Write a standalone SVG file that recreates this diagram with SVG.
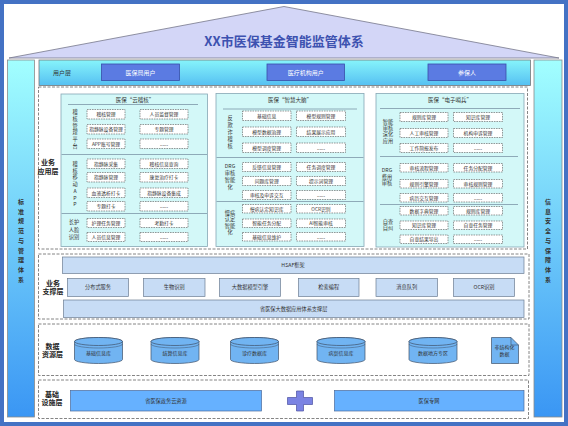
<svg xmlns="http://www.w3.org/2000/svg" width="568" height="426" viewBox="0 0 568 426">
<defs>
<linearGradient id="gSide" x1="0" y1="0" x2="0" y2="1"><stop offset="0" stop-color="#A2FFFF"/><stop offset="1" stop-color="#3A96F4"/></linearGradient>
<linearGradient id="gUser" x1="0" y1="0" x2="0" y2="1"><stop offset="0" stop-color="#86F4FB"/><stop offset="1" stop-color="#56C0F2"/></linearGradient>
<style>
text{font-family:"Noto Sans CJK SC","Noto Sans",sans-serif;fill:#333;text-anchor:middle}
.it rect{fill:#fff;stroke:#555;stroke-width:.6;stroke-dasharray:1.6 .9}
.it text{font-size:4.8px}
.lay{fill:none;stroke:#666;stroke-width:.8;stroke-dasharray:3 1.5}
.pan{fill:#D3F8F8;stroke:#86A6B4;stroke-width:.8}
.sep{stroke:#8EAAB8;stroke-width:1.2}
.pt{font-size:5.5px}
.vl{font-size:5.2px}
.ll{font-size:7px;font-weight:bold;fill:#222}
.sv rect{fill:#C7DCF5;stroke:#6C7D92;stroke-width:.7}
.sv text{font-size:5.2px}
.cy{fill:#71B4F2;stroke:#3F5068;stroke-width:.7}
.ub rect{fill:#5B7BE2;stroke:#3A4EA8;stroke-width:.8}
.ub text{fill:#fff;font-size:6px}
.inf rect{fill:#66B1FF;stroke:#4A6A9A;stroke-width:.7}
.inf text{font-size:5.2px}
.sd text{font-size:6px;font-weight:bold;fill:#333}
</style>
</defs>
<rect x="2" y="2" width="564" height="422" fill="#fff" stroke="#4472C4" stroke-width="4"/>

<g id="roof">
<polygon points="9,58 284,6.5 559,58" fill="#D3D6F7" stroke="#76778A" stroke-width="0.8"/>
<text x="284" y="45.5" style="font-size:13px;font-weight:bold;fill:#3D52B0">XX市医保基金智能监管体系</text>
</g>

<g id="side-left" class="sd">
<rect x="7.5" y="60" width="27" height="357" fill="url(#gSide)" stroke="#8A8A8A" stroke-width="0.8"/>
<text x="21" y="204">标<tspan x="21" dy="9.7">准</tspan><tspan x="21" dy="9.7">规</tspan><tspan x="21" dy="9.7">范</tspan><tspan x="21" dy="9.7">与</tspan><tspan x="21" dy="9.7">管</tspan><tspan x="21" dy="9.7">理</tspan><tspan x="21" dy="9.7">体</tspan><tspan x="21" dy="9.7">系</tspan></text>
</g>
<g id="side-right" class="sd">
<rect x="534" y="60" width="28" height="357" fill="url(#gSide)" stroke="#8A8A8A" stroke-width="0.8"/>
<text x="548" y="204">信<tspan x="548" dy="9.7">息</tspan><tspan x="548" dy="9.7">安</tspan><tspan x="548" dy="9.7">全</tspan><tspan x="548" dy="9.7">与</tspan><tspan x="548" dy="9.7">保</tspan><tspan x="548" dy="9.7">障</tspan><tspan x="548" dy="9.7">体</tspan><tspan x="548" dy="9.7">系</tspan></text>
</g>

<g id="user-layer">
<rect x="39" y="60" width="491.5" height="25.5" fill="url(#gUser)" stroke="#777" stroke-width="0.8"/>
<text x="62" y="74.5" style="font-size:6px">用户层</text>
<g class="ub"><rect x="101.5" y="64" width="78" height="16.5"/><text x="140.5" y="74.5">医保局用户</text></g>
<g class="ub"><rect x="267" y="64" width="77.5" height="16.5"/><text x="305.7" y="74.5">医疗机构用户</text></g>
<g class="ub"><rect x="428" y="64" width="78" height="16.5"/><text x="467" y="74.5">参保人</text></g>
</g>

<g id="app-layer">
<rect class="lay" x="38.5" y="87" width="489" height="162"/>
<text class="ll" x="48" y="165">业务</text><text class="ll" x="48" y="174">应用层</text>
</g>

<g id="cloud-audit">
<rect class="pan" x="61" y="94" width="146.5" height="152.5"/>
<text class="pt" x="135" y="102">医保“云稽核”</text>
<line class="sep" x1="68" y1="104.5" x2="198" y2="104.5"/>
<line class="sep" x1="61.5" y1="154.5" x2="207" y2="154.5"/>
<line class="sep" x1="61.5" y1="213.5" x2="207" y2="213.5"/>
<text class="vl" x="75" y="114">稽<tspan x="75" dy="6.8">核</tspan><tspan x="75" dy="6.8">管</tspan><tspan x="75" dy="6.8">理</tspan><tspan x="75" dy="6.8">平</tspan><tspan x="75" dy="6.8">台</tspan></text>
<text class="vl" x="75" y="166">稽<tspan x="75" dy="6.7">核</tspan><tspan x="75" dy="6.7">移</tspan><tspan x="75" dy="6.7">动</tspan><tspan x="75" dy="6.7">A</tspan><tspan x="75" dy="6.7">P</tspan><tspan x="75" dy="6.7">P</tspan></text>
<text class="vl" x="74" y="224">长护<tspan x="74" dy="7.6">人脸</tspan><tspan x="74" dy="7.6">识别</tspan></text>
<g class="it"><rect x="87" y="109.5" width="38" height="9.5"/><text x="106" y="116">稽核管理</text></g>
<g class="it"><rect x="140" y="109.5" width="48" height="9.5"/><text x="164" y="116">人员监督管理</text></g>
<g class="it"><rect x="87" y="124.5" width="38" height="9.5"/><text x="106" y="131">指静脉设备管理</text></g>
<g class="it"><rect x="140" y="124.5" width="48" height="9.5"/><text x="164" y="131">专题管理</text></g>
<g class="it"><rect x="87" y="139" width="38" height="9.5"/><text x="106" y="145.5">APP账号管理</text></g>
<g class="it"><rect x="140" y="139" width="48" height="9.5"/><text x="164" y="145.5">......</text></g>
<g class="it"><rect x="87" y="159" width="38" height="9.5"/><text x="106" y="165.5">指静脉采集</text></g>
<g class="it"><rect x="140" y="159" width="48" height="9.5"/><text x="164" y="165.5">稽核信息查询</text></g>
<g class="it"><rect x="87" y="172.5" width="38" height="9.5"/><text x="106" y="179">指静脉管理</text></g>
<g class="it"><rect x="140" y="172.5" width="48" height="9.5"/><text x="164" y="179">康复治疗打卡</text></g>
<g class="it"><rect x="87" y="188" width="38" height="9.5"/><text x="106" y="194.5">血液透析打卡</text></g>
<g class="it"><rect x="140" y="188" width="48" height="9.5"/><text x="164" y="194.5">指静脉设备集成</text></g>
<g class="it"><rect x="87" y="201.5" width="38" height="9.5"/><text x="106" y="208">专题打卡</text></g>
<g class="it"><rect x="140" y="201.5" width="48" height="9.5"/><text x="164" y="208">......</text></g>
<g class="it"><rect x="87" y="218.5" width="38" height="9"/><text x="106" y="224.8">护理任务管理</text></g>
<g class="it"><rect x="140" y="218.5" width="48" height="9"/><text x="164" y="224.8">考勤打卡</text></g>
<g class="it"><rect x="87" y="232.5" width="38" height="9"/><text x="106" y="238.8">人员信息管理</text></g>
<g class="it"><rect x="140" y="232.5" width="48" height="9"/><text x="164" y="238.8">......</text></g>
</g>

<g id="smart-brain">
<rect class="pan" x="216" y="93.5" width="148" height="153"/>
<text class="pt" x="290" y="102">医保“智慧大脑”</text>
<line class="sep" x1="223" y1="109" x2="357" y2="109"/>
<line class="sep" x1="216.5" y1="157.5" x2="363.5" y2="157.5"/>
<line class="sep" x1="216.5" y1="201.5" x2="363.5" y2="201.5"/>
<text class="vl" x="230" y="120">反<tspan x="230" dy="7">欺</tspan><tspan x="230" dy="7">诈</tspan><tspan x="230" dy="7">稽</tspan><tspan x="230" dy="7">核</tspan></text>
<text class="vl" x="230" y="167.5">DRG<tspan x="230" dy="7">审核</tspan><tspan x="230" dy="7">智能</tspan><tspan x="230" dy="7">化</tspan></text>
<text class="vl" x="230" y="215">慢病<tspan x="230" dy="6.4">认定</tspan><tspan x="230" dy="6.4">智能</tspan><tspan x="230" dy="6.4">化</tspan></text>
<g class="it"><rect x="242.5" y="111" width="48.5" height="9.5"/><text x="266.7" y="117.5">基础信息</text></g>
<g class="it"><rect x="296.5" y="111" width="49" height="9.5"/><text x="321" y="117.5">模型规则管理</text></g>
<g class="it"><rect x="242.5" y="127" width="48.5" height="9.5"/><text x="266.7" y="133.5">模型数据治理</text></g>
<g class="it"><rect x="296.5" y="127" width="49" height="9.5"/><text x="321" y="133.5">结果展示应用</text></g>
<g class="it"><rect x="242.5" y="143" width="48.5" height="9.5"/><text x="266.7" y="149.5">模型调度管理</text></g>
<g class="it"><rect x="296.5" y="143" width="49" height="9.5"/><text x="321" y="149.5">......</text></g>
<g class="it"><rect x="242.5" y="162.5" width="48.5" height="9"/><text x="266.7" y="168.8">反馈信息管理</text></g>
<g class="it"><rect x="296.5" y="162.5" width="49" height="9"/><text x="321" y="168.8">任务调度管理</text></g>
<g class="it"><rect x="242.5" y="176.5" width="48.5" height="9"/><text x="266.7" y="182.8">问题库管理</text></g>
<g class="it"><rect x="296.5" y="176.5" width="49" height="9"/><text x="321" y="182.8">提示词管理</text></g>
<g class="it"><rect x="242.5" y="190.5" width="48.5" height="9"/><text x="266.7" y="196.8">审核及申诉交互</text></g>
<g class="it"><rect x="296.5" y="190.5" width="49" height="9"/><text x="321" y="196.8">......</text></g>
<g class="it"><rect x="242.5" y="204.5" width="48.5" height="8.5"/><text x="266.7" y="210.5">慢病认定知识库</text></g>
<g class="it"><rect x="296.5" y="204.5" width="49" height="8.5"/><text x="321" y="210.5">OCR识别</text></g>
<g class="it"><rect x="242.5" y="219" width="48.5" height="8.5"/><text x="266.7" y="225">智能任务分配</text></g>
<g class="it"><rect x="296.5" y="219" width="49" height="8.5"/><text x="321" y="225">AI智能审核</text></g>
<g class="it"><rect x="242.5" y="232.5" width="48.5" height="8.5"/><text x="266.7" y="238.5">基础信息维护</text></g>
<g class="it"><rect x="296.5" y="232.5" width="49" height="8.5"/><text x="321" y="238.5">......</text></g>
</g>

<g id="e-sentinel">
<rect class="pan" x="376" y="93.5" width="148" height="153.5"/>
<text class="pt" x="450" y="102">医保“电子哨兵”</text>
<line class="sep" x1="380" y1="108.5" x2="520" y2="108.5"/>
<line class="sep" x1="380" y1="156.5" x2="518" y2="156.5"/>
<line class="sep" x1="380" y1="204.5" x2="518" y2="204.5"/>
<text class="vl" x="388" y="124">智能<tspan x="388" dy="6.2">审核</tspan><tspan x="388" dy="6.2">深化</tspan><tspan x="388" dy="6.2">应用</tspan></text>
<text class="vl" x="387" y="172">DRG<tspan x="387" dy="7">费用</tspan><tspan x="387" dy="6.2">审核</tspan></text>
<text class="vl" x="388" y="223.5">自查<tspan x="388" dy="6.8">自纠</tspan></text>
<g class="it"><rect x="400" y="112.5" width="48" height="9"/><text x="424" y="118.8">规则库管理</text></g>
<g class="it"><rect x="453.5" y="112.5" width="49" height="9"/><text x="478" y="118.8">知识库管理</text></g>
<g class="it"><rect x="400" y="128.5" width="48" height="9"/><text x="424" y="134.8">人工审核管理</text></g>
<g class="it"><rect x="453.5" y="128.5" width="49" height="9"/><text x="478" y="134.8">机构申诉管理</text></g>
<g class="it"><rect x="400" y="143.5" width="48" height="9"/><text x="424" y="149.8">工作简报发布</text></g>
<g class="it"><rect x="453.5" y="143.5" width="49" height="9"/><text x="478" y="149.8">......</text></g>
<g class="it"><rect x="400" y="163.5" width="48" height="8.5"/><text x="424" y="169.5">审核流程管理</text></g>
<g class="it"><rect x="453.5" y="163.5" width="49" height="8.5"/><text x="478" y="169.5">任务分配管理</text></g>
<g class="it"><rect x="400" y="179.5" width="48" height="8.5"/><text x="424" y="185.5">规则引擎管理</text></g>
<g class="it"><rect x="453.5" y="179.5" width="49" height="8.5"/><text x="478" y="185.5">审核规则管理</text></g>
<g class="it"><rect x="400" y="193.5" width="48" height="8.5"/><text x="424" y="199.5">病历交互管理</text></g>
<g class="it"><rect x="453.5" y="193.5" width="49" height="8.5"/><text x="478" y="199.5">......</text></g>
<g class="it"><rect x="400" y="206.5" width="48" height="8.5"/><text x="424" y="212.5">数据字典管理</text></g>
<g class="it"><rect x="453.5" y="206.5" width="49" height="8.5"/><text x="478" y="212.5">规则库管理</text></g>
<g class="it"><rect x="400" y="221" width="48" height="8.5"/><text x="424" y="227">知识库管理</text></g>
<g class="it"><rect x="453.5" y="221" width="49" height="8.5"/><text x="478" y="227">自查任务管理</text></g>
<g class="it"><rect x="400" y="235" width="48" height="8.5"/><text x="424" y="241">自查结果导出</text></g>
<g class="it"><rect x="453.5" y="235" width="49" height="8.5"/><text x="478" y="241">......</text></g>
</g>

<g id="support-layer">
<rect class="lay" x="38.5" y="254" width="490.5" height="65"/>
<text class="ll" x="53" y="285.5">业务</text><text class="ll" x="53" y="294">支撑层</text>
<g class="sv"><rect x="62.5" y="257" width="461.5" height="16.5"/><text x="293" y="267">HSAF框架</text></g>
<g class="sv"><rect x="67.5" y="278.5" width="61" height="18"/><text x="98" y="289.3">分布式服务</text></g>
<g class="sv"><rect x="143.5" y="278.5" width="61.5" height="18"/><text x="174.2" y="289.3">生物识别</text></g>
<g class="sv"><rect x="219.5" y="278.5" width="61" height="18"/><text x="250" y="289.3">大数据模型引擎</text></g>
<g class="sv"><rect x="298.5" y="278.5" width="60.5" height="18"/><text x="328.7" y="289.3">检索编程</text></g>
<g class="sv"><rect x="376" y="278.5" width="61.5" height="18"/><text x="406.7" y="289.3">消息队列</text></g>
<g class="sv"><rect x="453.5" y="278.5" width="61" height="18"/><text x="484" y="289.3">OCR识别</text></g>
<g class="sv"><rect x="63.5" y="300" width="460.5" height="17.5"/><text x="293.7" y="310.5">省医保大数据应用体系支撑层</text></g>
</g>

<g id="data-layer">
<rect class="lay" x="38.5" y="324" width="490.5" height="51.5"/>
<text class="ll" x="52.5" y="348.5">数据</text><text class="ll" x="52.5" y="357">资源层</text>
</g>
<g id="db1"><path class="cy" d="M74.5,341.5 A24,4 0 0 1 122.5,341.5 V359.5 A24,4 0 0 1 74.5,359.5 Z"/><ellipse class="cy" cx="98.5" cy="341.5" rx="24" ry="4"/><path d="M74.5,344 A24,4 0 0 0 122.5,344" fill="none" stroke="#3F5068" stroke-width="0.5"/><text x="98.5" y="355" style="font-size:5px">基础信息库</text></g>
<g id="db2"><path class="cy" d="M151,341.5 A24,4 0 0 1 199,341.5 V359.5 A24,4 0 0 1 151,359.5 Z"/><ellipse class="cy" cx="175" cy="341.5" rx="24" ry="4"/><path d="M151,344 A24,4 0 0 0 199,344" fill="none" stroke="#3F5068" stroke-width="0.5"/><text x="175" y="355" style="font-size:5px">结算信息库</text></g>
<g id="db3"><path class="cy" d="M230.5,341.5 A24,4 0 0 1 278.5,341.5 V359.5 A24,4 0 0 1 230.5,359.5 Z"/><ellipse class="cy" cx="254.5" cy="341.5" rx="24" ry="4"/><path d="M230.5,344 A24,4 0 0 0 278.5,344" fill="none" stroke="#3F5068" stroke-width="0.5"/><text x="254.5" y="355" style="font-size:5px">诊疗数据库</text></g>
<g id="db4"><path class="cy" d="M317,341.5 A24,4 0 0 1 365,341.5 V359.5 A24,4 0 0 1 317,359.5 Z"/><ellipse class="cy" cx="341" cy="341.5" rx="24" ry="4"/><path d="M317,344 A24,4 0 0 0 365,344" fill="none" stroke="#3F5068" stroke-width="0.5"/><text x="341" y="355" style="font-size:5px">病案信息库</text></g>
<g id="db5"><path class="cy" d="M409,341.5 A24,4 0 0 1 457,341.5 V359.5 A24,4 0 0 1 409,359.5 Z"/><ellipse class="cy" cx="433" cy="341.5" rx="24" ry="4"/><path d="M409,344 A24,4 0 0 0 457,344" fill="none" stroke="#3F5068" stroke-width="0.5"/><text x="433" y="355" style="font-size:5px">数据地方专区</text></g>
<g id="doc"><path class="cy" d="M491.5,337.5 H511 L518.5,345 V363.5 H491.5 Z"/><path d="M511,337.5 V345 H518.5" fill="none" stroke="#3F5068" stroke-width="0.6"/><text x="504.5" y="349" style="font-size:5px">非结构化</text><text x="504.5" y="356" style="font-size:5px">数据</text></g>

<g id="infra-layer">
<rect class="lay" x="38.5" y="380" width="490" height="38.5"/>
<text class="ll" x="52" y="396.5">基础</text><text class="ll" x="52" y="405">设施层</text>
<g class="inf"><rect x="70.5" y="390.5" width="191" height="20.5"/><text x="166" y="402.5">省医保政务云资源</text></g>
<path d="M296.5,391 H303.5 V397.5 H312.5 V404.5 H303.5 V411 H296.5 V404.5 H287.5 V397.5 H296.5 Z" fill="#7B83E3" stroke="#4B50A0" stroke-width="0.7"/>
<g class="inf"><rect x="334.5" y="390.5" width="189.5" height="20.5"/><text x="429" y="402.5">医保专网</text></g>
</g>
<g id="connectors"></g>
</svg>
